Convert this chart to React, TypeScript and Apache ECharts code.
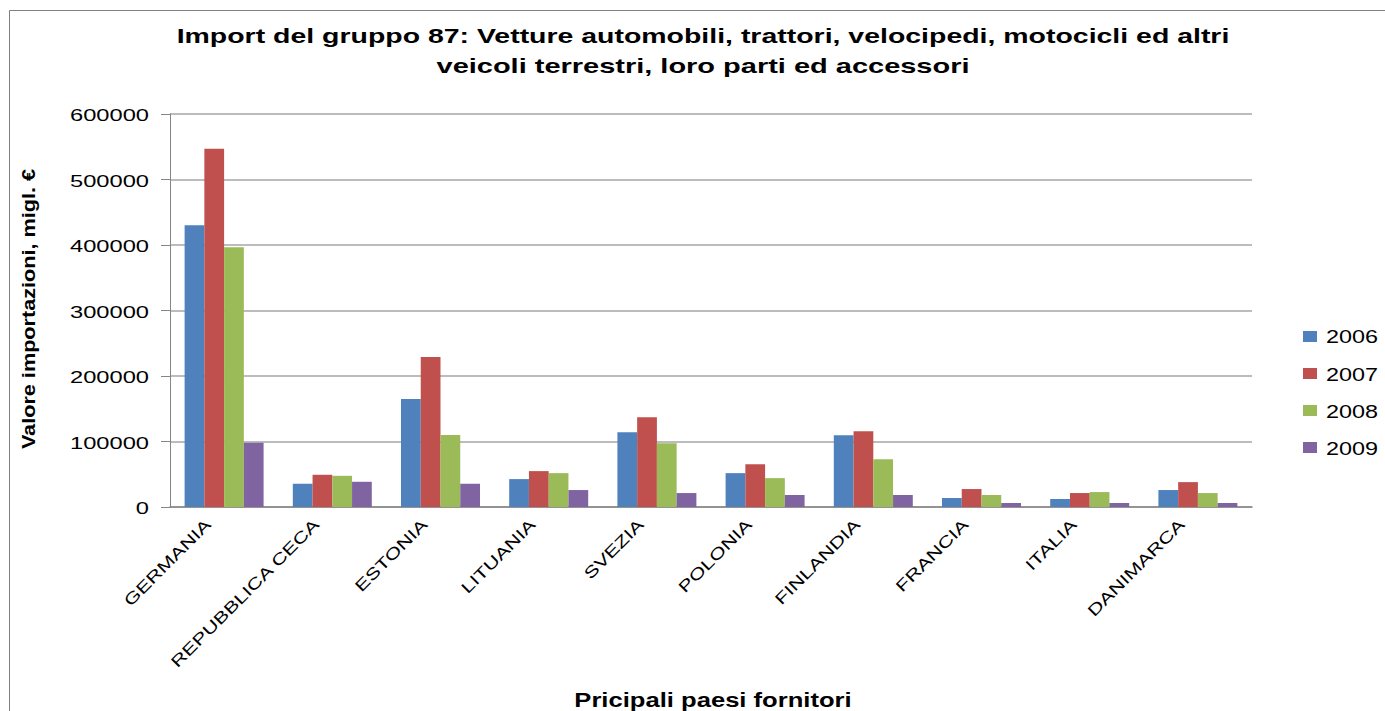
import React, { useEffect, useRef } from "react";
import * as echarts from "echarts";

const categories = ["GERMANIA", "REPUBBLICA CECA", "ESTONIA", "LITUANIA", "SVEZIA", "POLONIA", "FINLANDIA", "FRANCIA", "ITALIA", "DANIMARCA"];
const years = ["2006", "2007", "2008", "2009"];
const v2006 = [430000, 35500, 165000, 42600, 114000, 51700, 109600, 13700, 12200, 25900];
const v2007 = [547000, 49200, 229000, 54800, 137000, 65400, 115700, 27400, 21300, 38000];
const v2008 = [396500, 47600, 110000, 51700, 97400, 44100, 73000, 18300, 22800, 21300];
const v2009 = [98000, 38500, 35500, 25900, 21300, 18300, 18300, 6100, 6100, 6100];
const yTicks = [0, 100000, 200000, 300000, 400000, 500000, 600000];
const colors = ["#4f81bd", "#c0504d", "#9bbb59", "#8064a2"];
const titleLines = ["Import del gruppo 87: Vetture automobili, trattori, velocipedi, motocicli ed altri", "veicoli terrestri, loro parti ed accessori"];
const xName = "Pricipali paesi fornitori";
const yName = "Valore importazioni, migl. €";

const FONT = "'Liberation Sans', Arial, sans-serif";

function txt(text: string, x: number, y: number, size: number, sx: number, opts: any = {}) {
  const align = opts.align || "center";
  const valign = opts.valign || "middle";
  return {
    type: "text",
    x,
    y,
    scaleX: sx,
    rotation: opts.rotation || 0,
    silent: true,
    style: {
      text,
      fontSize: size,
      fontWeight: opts.bold ? "bold" : "normal",
      fontFamily: FONT,
      fill: "#000",
      align,
      textAlign: align,
      verticalAlign: valign,
      textVerticalAlign: valign,
    },
  };
}

export default function App() {
  const ref = useRef<HTMLDivElement>(null);
  useEffect(() => {
    document.body.style.margin = "0";
    const chart = echarts.init(ref.current!, null, { renderer: "svg" });
    const seriesData = [v2006, v2007, v2008, v2009];
    chart.setOption({
      animation: false,
      textStyle: { fontFamily: FONT },
      legend: {
        left: 1298,
        top: 326,
        orient: "vertical",
        itemWidth: 14,
        itemHeight: 11,
        itemGap: 26,
        icon: "rect",
        data: years,
        formatter: () => "",
        textStyle: { fontSize: 11, color: "#000" },
      },
      grid: { left: 170, right: 133, top: 114, bottom: 204 },
      xAxis: {
        type: "category",
        data: categories,
        axisLine: { lineStyle: { color: "#868686", width: 1.5 } },
        axisTick: { show: false },
        axisLabel: { show: false },
      },
      yAxis: {
        type: "value",
        min: 0,
        max: 600000,
        interval: 100000,
        axisLine: { show: true, lineStyle: { color: "#868686", width: 1 } },
        axisTick: { show: true, length: 9, lineStyle: { color: "#868686" } },
        axisLabel: { show: false },
        splitLine: { lineStyle: { color: "#a6a6a6", width: 1.5 } },
      },
      series: years.map((y, i) => ({
        name: y,
        type: "bar",
        data: seriesData[i],
        itemStyle: { color: colors[i] },
        barGap: "0%",
        barCategoryGap: "27%",
      })),
    });

    const g: any[] = [
      {
        type: "rect",
        shape: { x: 9.5, y: 10.5, width: 1380, height: 710 },
        style: { fill: "none", stroke: "#7f7f7f", lineWidth: 1 },
        silent: true,
      },
      txt(titleLines[0], 703, 35, 21, 1.355, { bold: true }),
      txt(titleLines[1], 703, 66, 21, 1.38, { bold: true }),
      txt(xName, 713, 700, 20, 1.28, { bold: true }),
      txt(yName, 28, 309, 19, 1.14, { bold: true, rotation: Math.PI / 2 }),
    ];
    yTicks.forEach((v) => {
      const py = chart.convertToPixel({ yAxisIndex: 0 }, v) as number;
      g.push(txt(String(v), 149, py + 1.5, 16, 1.48, { align: "right" }));
    });
    categories.forEach((c, i) => {
      const px = chart.convertToPixel({ xAxisIndex: 0 }, i) as number;
      g.push(txt(c, px - 16, 522, 16, 1.35, { align: "right", rotation: Math.PI / 4 }));
    });
    years.forEach((y, i) => {
      g.push(txt(y, 1326, 337 + i * 37.3, 18, 1.3, { align: "left" }));
    });
    chart.setOption({ graphic: g });
    return () => chart.dispose();
  }, []);
  return <div ref={ref} style={{ width: 1385, height: 711 }} />;
}
